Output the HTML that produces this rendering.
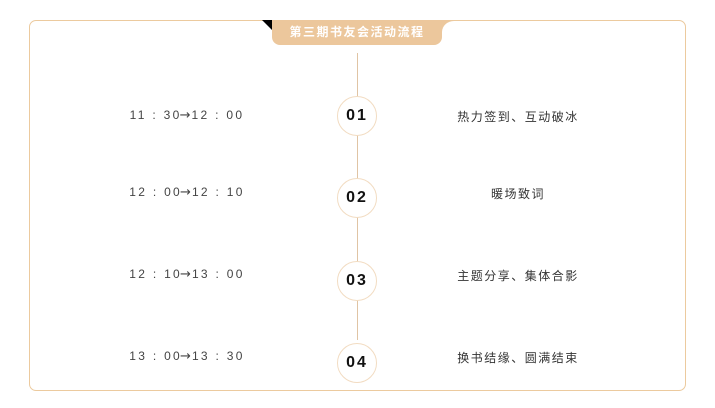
<!DOCTYPE html>
<html><head><meta charset="utf-8"><style>
body{margin:0;width:715px;height:408px;background:#fff;position:relative;overflow:hidden;font-family:"Liberation Sans","Noto Sans CJK SC",sans-serif}
.box{position:absolute;left:29px;top:20px;width:655px;height:369px;border:1px solid #ecca9e;border-radius:7px}
.tab{position:absolute;left:272px;top:20px;width:170px;height:25px;background:#ecc79c;border-radius:0 0 8px 8px;color:#fff;font-weight:bold;font-size:12px;text-align:center;line-height:25px;letter-spacing:1.5px}
.wl{position:absolute;left:262px;top:20px;width:10px;height:10px;background:#000;clip-path:polygon(0 0,100% 0,100% 100%)}
.wr{position:absolute;left:442px;top:20px;width:12px;height:12px;background:#ecc79c}
.wr:after{content:"";position:absolute;left:0;top:0;width:24px;height:24px;border-radius:12px 0 0 0;background:#fff;border-top:1px solid #ecca9e}
.line{position:absolute;left:357px;top:53px;width:1px;height:287px;background:#e0c4a4}
.c{position:absolute;left:337px;width:38px;height:38px;border-radius:50%;border:1px solid #f2dcc2;background:#fff;text-align:center;line-height:38px;font-weight:bold;font-size:16px;letter-spacing:2px;color:#111}
.t{position:absolute;left:107px;width:160px;text-align:center;font-size:12px;color:#444;letter-spacing:2.3px;white-space:pre}
.t b{font-weight:normal;font-family:"DejaVu Sans",sans-serif;font-size:13px;letter-spacing:0;margin:0 1px 0 -2px}
.r{position:absolute;left:438px;width:160px;text-align:center;font-size:12px;color:#333;letter-spacing:1.5px}
</style></head><body>
<div class="box"></div>
<div class="wl"></div><div class="wr"></div>
<div class="tab">第三期书友会活动流程</div>
<div class="line"></div>
<div class="c" style="top:96px">01</div>
<div class="c" style="top:178px">02</div>
<div class="c" style="top:261px">03</div>
<div class="c" style="top:343px">04</div>
<div class="t" style="top:108px">11 : 30<b>→</b>12 : 00</div>
<div class="t" style="top:185px">12 : 00<b>→</b>12 : 10</div>
<div class="t" style="top:267px">12 : 10<b>→</b>13 : 00</div>
<div class="t" style="top:349px">13 : 00<b>→</b>13 : 30</div>
<div class="r" style="top:108px">热力签到、互动破冰</div>
<div class="r" style="top:185px">暖场致词</div>
<div class="r" style="top:267px">主题分享、集体合影</div>
<div class="r" style="top:349px">换书结缘、圆满结束</div>
</body></html>
